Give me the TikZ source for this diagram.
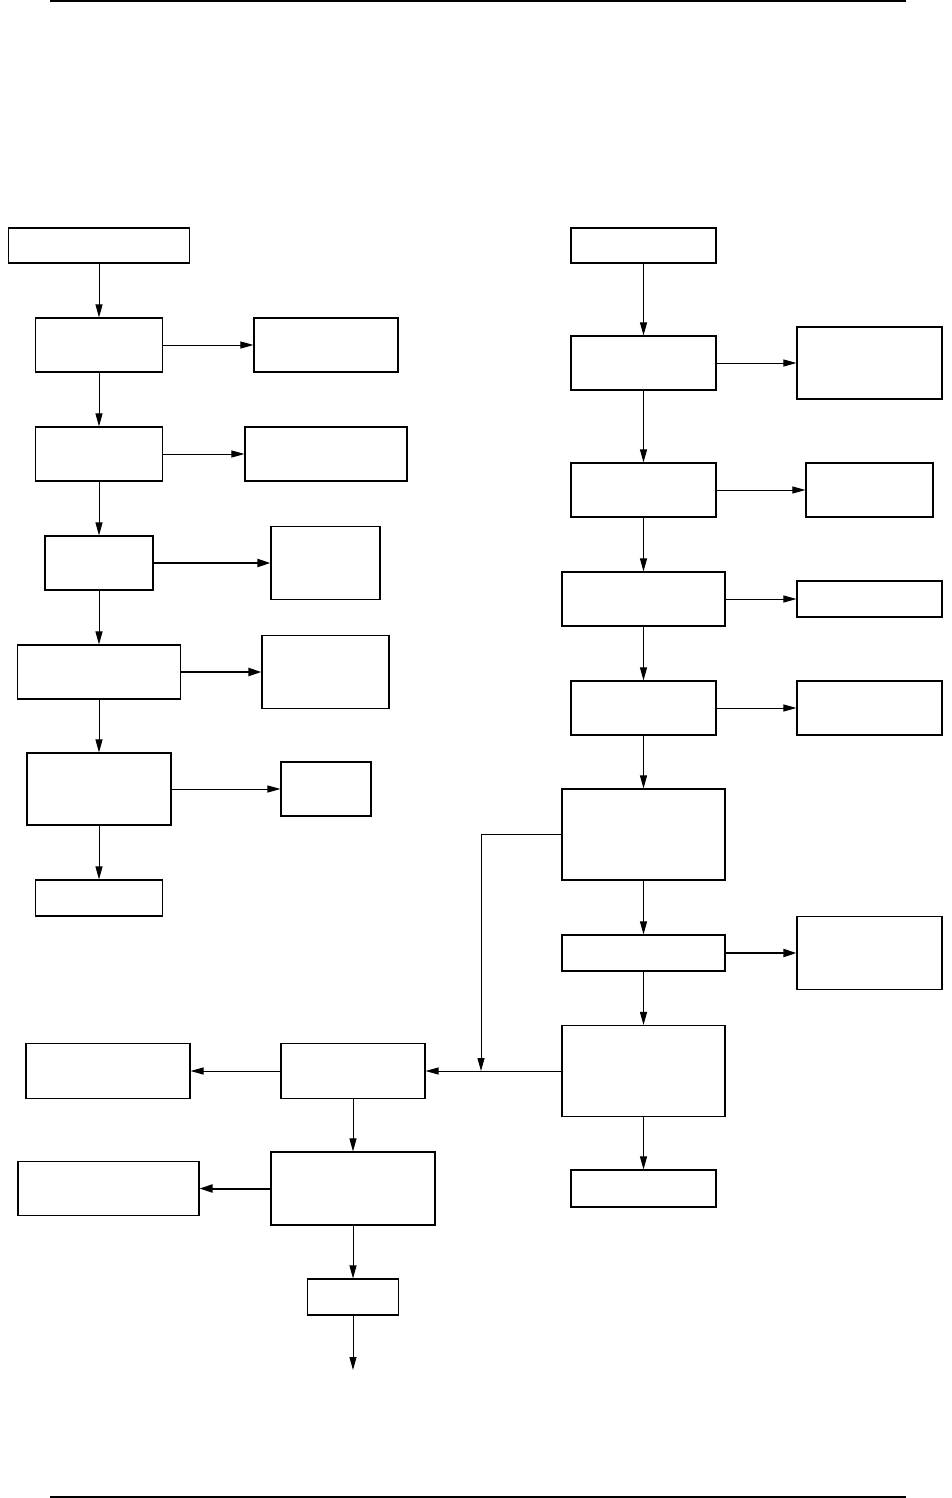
\documentclass[tikz,border=0pt]{standalone}
\usepackage{tikz}
\usetikzlibrary{shapes}
\usetikzlibrary{arrows.meta}

\begin{document}
\begin{tikzpicture}[x=1pt,y=-1pt,
		box/.style={draw,line width=1.1pt,inner sep=0pt},
		arr/.style={line width=1pt,-{Triangle[length=13pt,width=7pt]}},
		arrthick/.style={line width=2pt,-{Triangle[length=13pt,width=8pt]}}]
	\useasboundingbox (0,0) rectangle (952,1498);
	% page rules
	\draw[line width=1.3pt] (50,1) -- (906,1);
	\draw[line width=1.3pt] (50,1497) -- (906,1497);

	% left column
	\node[box,minimum width=181pt,minimum height=35pt] (L0) at (99,245.5) {};
	\node[box,minimum width=127pt,minimum height=54pt] (L1) at (99,345) {};
	\node[box,minimum width=144pt,minimum height=54pt] (R1) at (326,345) {};
	\node[box,minimum width=127pt,minimum height=54pt] (L2) at (99,454) {};
	\node[box,minimum width=162pt,minimum height=54pt] (R2) at (326,454) {};
	\node[box,minimum width=108pt,minimum height=54pt] (L3) at (99,563) {};
	\node[box,minimum width=109pt,minimum height=73pt] (R3) at (325.5,563) {};
	\node[box,minimum width=163pt,minimum height=54pt] (L4) at (99,672) {};
	\node[box,minimum width=127pt,minimum height=73pt] (R4) at (325.5,672) {};
	\node[box,minimum width=144pt,minimum height=72pt] (L5) at (99,789) {};
	\node[box,minimum width=90pt,minimum height=54pt] (R5) at (326,789) {};
	\node[box,minimum width=127pt,minimum height=36pt] (L6) at (99,898) {};

	% right column
	\node[box,minimum width=145pt,minimum height=35pt] (M0) at (643.5,245.5) {};
	\node[box,minimum width=145pt,minimum height=54pt] (M1) at (643.5,363) {};
	\node[box,minimum width=145pt,minimum height=72pt] (N1) at (869.5,363) {};
	\node[box,minimum width=145pt,minimum height=54pt] (M2) at (643.5,490) {};
	\node[box,minimum width=127pt,minimum height=54pt] (N2) at (869.5,490) {};
	\node[box,minimum width=163pt,minimum height=54pt] (M3) at (643.5,599) {};
	\node[box,minimum width=145pt,minimum height=36pt] (N3) at (869.5,599) {};
	\node[box,minimum width=145pt,minimum height=54pt] (M4) at (643.5,708) {};
	\node[box,minimum width=145pt,minimum height=54pt] (N4) at (869.5,708) {};
	\node[box,minimum width=163pt,minimum height=91pt] (M5) at (643.5,834.5) {};
	\node[box,minimum width=163pt,minimum height=36pt] (M6) at (643.5,953) {};
	\node[box,minimum width=145pt,minimum height=73pt] (N6) at (869.5,953) {};
	\node[box,minimum width=163pt,minimum height=91pt] (M7) at (643.5,1071) {};
	\node[box,minimum width=145pt,minimum height=37pt] (M8) at (643.5,1188.5) {};

	% bottom part
	\node[box,minimum width=144pt,minimum height=55pt] (B1) at (353,1071) {};
	\node[box,minimum width=164pt,minimum height=55pt] (A1) at (108,1071) {};
	\node[box,minimum width=164pt,minimum height=73pt] (B2) at (353,1188.5) {};
	\node[box,minimum width=181pt,minimum height=54pt] (A2) at (108.5,1188.5) {};
	\node[box,minimum width=91pt,minimum height=36pt] (B3) at (353,1297) {};
	\coordinate (join) at (481,1071);
	\coordinate (out) at (353,1370);

	\foreach \a/\b in {L0/L1,L1/L2,L2/L3,L3/L4,L4/L5,L5/L6,L1/R1,L2/R2,L5/R5,
			M0/M1,M1/M2,M2/M3,M3/M4,M4/M5,M5/M6,M6/M7,M7/M8,M1/N1,M2/N2,M3/N3,M4/N4,
			M7/B1,B1/A1,B1/B2,B2/B3,B3/out}
		\draw[arr] (\a) -- (\b);
	\foreach \a/\b in {L3/R3,L4/R4,M6/N6,B2/A2}
		\draw[arrthick] (\a) -- (\b);
	\draw[arr] (M5.west) -| (join);
\end{tikzpicture}
\end{document}
